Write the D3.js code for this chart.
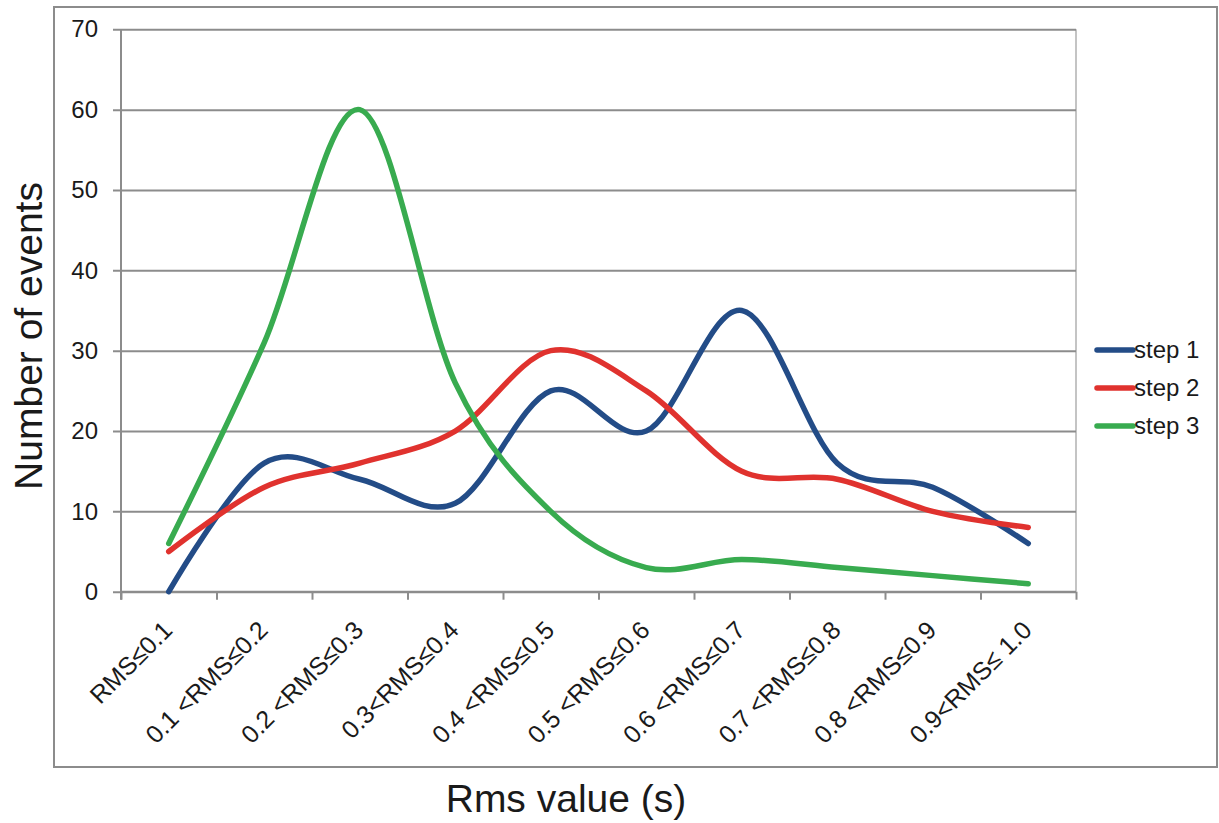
<!DOCTYPE html>
<html>
<head>
<meta charset="utf-8">
<script src="https://cdn.jsdelivr.net/npm/d3@7"></script>
<style>
  body { margin: 0; background: #fff; }
  text { font-family: "Liberation Sans", Arial, sans-serif; fill: #1a1a1a; }
</style>
</head>
<body>
<div id="chart"></div>
<script>
// categories and series
const categories = ['RMS\u22640.1', '0.1 <RMS\u22640.2', '0.2 <RMS\u22640.3', '0.3<RMS\u22640.4', '0.4 <RMS\u22640.5',
    '0.5 <RMS\u22640.6', '0.6 <RMS\u22640.7', '0.7 <RMS\u22640.8', '0.8 <RMS\u22640.9', '0.9<RMS\u2264 1.0']
const step1 = [0, 16, 14, 11, 25, 20, 35, 16, 13, 6]
const step2 = [5, 13, 16, 20, 30, 25, 15, 14, 10, 8]
const step3 = [6, 31, 60, 26, 10, 3, 4, 3, 2, 1]
const seriesNames = ['step 1', 'step 2', 'step 3']
const seriesColors = ['#234c87', '#e0322e', '#38ab4f']
const yTicks = [0, 10, 20, 30, 40, 50, 60, 70]

const series = [step1, step2, step3];

var W = 1219, H = 823;
const plot = {left: 121, right: 1076, top: 29.3, bottom: 591.7};

var svg = d3.select('#chart')
    .append('svg')
    .attr('width', W)
    .attr('height', H);

// outer frame
svg.append('rect')
    .attr('x', 54).attr('y', 7)
    .attr('width', 1163).attr('height', 760)
    .attr('fill', 'none')
    .attr('stroke', '#8c8c8c')
    .attr('stroke-width', 2);

let x_scale = d3.scaleBand()
    .domain(categories)
    .range([plot.left, plot.right])
    .padding(0);

let x_edges = d3.scaleLinear()
    .domain([0, categories.length])
    .range([plot.left, plot.right]);

let y_scale = d3.scaleLinear()
    .domain([0, 70])
    .range([plot.bottom, plot.top]);

// right border of the plot area
svg.append('line')
    .attr('x1', plot.right).attr('x2', plot.right)
    .attr('y1', plot.top).attr('y2', plot.bottom)
    .attr('stroke', '#c4c4c4')
    .attr('stroke-width', 2);

// y axis with gridlines
let y_axis = d3.axisLeft(y_scale)
    .tickValues(yTicks)
    .tickSize(-(plot.right - plot.left) - 8)
    .tickPadding(15);

let gy = svg.append('g')
    .attr('transform', 'translate(' + (plot.left - 8) + ',0)')
    .call(y_axis);
gy.select('.domain').remove();
gy.selectAll('.tick line')
    .attr('x1', 0)
    .attr('x2', plot.right - plot.left + 8)
    .attr('stroke', '#8c8c8c')
    .attr('stroke-width', 2);
gy.selectAll('.tick text')
    .attr('x', -15)
    .attr('font-size', '24px')
    .style('font-family', '"Liberation Sans", Arial, sans-serif')
    .attr('fill', '#1a1a1a');

// y axis line
svg.append('line')
    .attr('x1', plot.left).attr('x2', plot.left)
    .attr('y1', plot.top).attr('y2', plot.bottom + 8)
    .attr('stroke', '#8c8c8c')
    .attr('stroke-width', 2);

// x axis tick marks at category edges
let x_tick_axis = d3.axisBottom(x_edges)
    .tickValues(d3.range(categories.length + 1))
    .tickSize(8)
    .tickFormat('');
let gx = svg.append('g')
    .attr('transform', 'translate(0,' + plot.bottom + ')')
    .call(x_tick_axis);
gx.select('.domain')
    .attr('stroke', '#8c8c8c')
    .attr('stroke-width', 2)
    .attr('d', 'M' + plot.left + ',0H' + plot.right);
gx.selectAll('.tick line')
    .attr('stroke', '#8c8c8c')
    .attr('stroke-width', 2);

// category labels
let x_axis = d3.axisBottom(x_scale).tickSize(0);
let gl = svg.append('g')
    .attr('transform', 'translate(0,' + plot.bottom + ')')
    .call(x_axis);
gl.select('.domain').remove();
gl.selectAll('.tick text')
    .attr('y', 0)
    .attr('dy', 0)
    .attr('font-size', '25px')
    .style('font-family', '"Liberation Sans", Arial, sans-serif')
    .attr('fill', '#1a1a1a')
    .attr('text-anchor', 'end')
    .attr('transform', 'translate(5,40) rotate(-45)');

// lines
let line = d3.line()
    .x(function(d, i) { return x_scale(categories[i]) + x_scale.bandwidth() / 2; })
    .y(function(d) { return y_scale(d); })
    .curve(d3.curveCatmullRom.alpha(0));

svg.selectAll('.series')
    .data(series)
    .enter()
    .append('path')
    .attr('class', 'series')
    .attr('d', line)
    .attr('fill', 'none')
    .attr('stroke', function(d, i) { return seriesColors[i]; })
    .attr('stroke-width', 5.5)
    .attr('stroke-linecap', 'round')
    .attr('stroke-linejoin', 'round');

// legend
let legend = svg.append('g');
seriesNames.forEach(function(name, i) {
    let yy = 350 + i * 38;
    legend.append('line')
        .attr('x1', 1097).attr('x2', 1133)
        .attr('y1', yy).attr('y2', yy)
        .attr('stroke', seriesColors[i])
        .attr('stroke-width', 5.5)
        .attr('stroke-linecap', 'round');
    legend.append('text')
        .attr('x', 1134)
        .attr('y', yy)
        .attr('dy', '0.35em')
        .attr('font-size', '24px')
        .text(name);
});

// axis titles
svg.append('text')
    .attr('transform', 'translate(42,336) rotate(-90)')
    .attr('text-anchor', 'middle')
    .attr('font-size', '39px')
    .text('Number of events');

svg.append('text')
    .attr('x', 566)
    .attr('y', 812)
    .attr('text-anchor', 'middle')
    .attr('font-size', '39px')
    .text('Rms value (s)');
</script>
</body>
</html>
